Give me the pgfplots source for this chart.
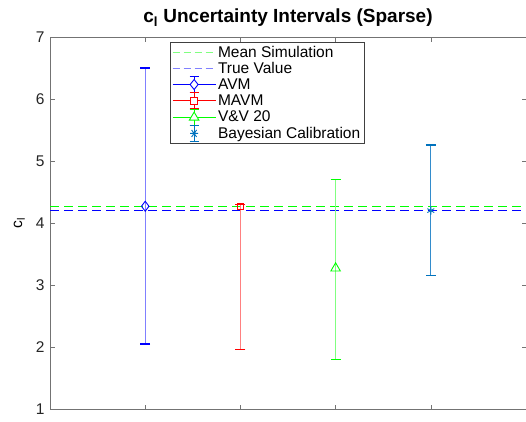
\documentclass[border=0pt]{standalone}
\usepackage{fontspec}
\setmainfont{Liberation Sans}
\usepackage{pgfplots}
\pgfplotsset{compat=1.18}
\definecolor{mblue}{rgb}{0,0.447,0.741}
\definecolor{axgray}{rgb}{0.45,0.45,0.45}
\definecolor{lgreen}{rgb}{0.5,1,0.5}
\definecolor{lblue}{rgb}{0.5,0.5,1}
\definecolor{bblue}{rgb}{0.5,0.5,1}
\definecolor{bred}{rgb}{1,0.5,0.5}
\definecolor{bgreen}{rgb}{0.5,1,0.5}
\definecolor{bmblue}{rgb}{0.2,0.55,0.8}
\begin{document}
\begin{tikzpicture}
\useasboundingbox (0pt,0pt) rectangle (526pt,421pt);
\begin{axis}[
  at={(50pt,12pt)}, anchor=south west,
  scale only axis, width=476pt, height=372pt,
  xmin=0, xmax=5, ymin=1, ymax=7,
  xtick={1,2,3,4}, xticklabels={},
  ytick={1,2,3,4,5,6,7},
  tick align=inside, tick style={axgray, line width=0.5pt},
  major tick length=4.5pt,
  axis line style={axgray, line width=0.6pt},
  ticklabel style={font=\fontsize{15.5}{17}\selectfont, text=black!85},
  yticklabel style={xshift=-2pt},
  /pgf/number format/assume math mode=true,
  title={\textbf{c\textsubscript{l} Uncertainty Intervals (Sparse)}},
  title style={font=\fontsize{19}{21}\selectfont, at={(0.5,1)}, yshift=1pt},
  ylabel={c\textsubscript{l}},
  ylabel style={font=\fontsize{15.5}{17}\selectfont, yshift=4pt},
  clip=false,
  legend style={draw=black!75, line width=0.6pt,
    font=\fontsize{15.5}{17}\selectfont, row sep=-0.6pt, inner xsep=2pt, inner ysep=1.5pt,
    legend cell align=left},
  every axis legend/.append style={at={(0.2518,0.9865)}, anchor=north west},
]
\addplot[green, dash pattern=on 9pt off 5pt, line width=0.9pt, forget plot] coordinates {(0,4.27) (5,4.27)};
\addplot[blue, dash pattern=on 9pt off 5pt, line width=1.6pt, forget plot] coordinates {(0,4.2) (5,4.2)};
% AVM
\addplot[blue, mark=diamond, mark size=5pt, mark options={solid, line width=0.9pt, draw=blue},
  only marks, forget plot,
  error bars/.cd, y dir=both, y explicit,
  error bar style={draw=bblue, line width=1pt},
  error mark options={rotate=90, mark size=5pt, draw=blue, line width=1.3pt},
] coordinates {(1,4.27) += (0,2.23) -= (0,2.22)};
% MAVM
\addplot[red, mark=square, mark size=3.2pt, mark options={solid, line width=0.9pt, draw=red},
  only marks, forget plot,
  error bars/.cd, y dir=both, y explicit,
  error bar style={draw=bred, line width=1pt},
  error mark options={rotate=90, mark size=5pt, draw=red, line width=1.3pt},
] coordinates {(2,4.27) += (0,0.03) -= (0,2.31)};
% V&V 20
\addplot[green, mark=triangle, mark size=5.5pt, mark options={solid, line width=0.9pt, draw=green},
  only marks, forget plot,
  error bars/.cd, y dir=both, y explicit,
  error bar style={draw=bgreen, line width=1pt},
  error mark options={rotate=90, mark size=5pt, draw=green, line width=1.3pt},
] coordinates {(3,3.27) += (0,1.43) -= (0,1.47)};
% Bayesian
\addplot[mblue, mark=asterisk, mark size=4pt, mark options={solid, line width=0.9pt, draw=mblue},
  only marks, forget plot,
  error bars/.cd, y dir=both, y explicit,
  error bar style={draw=bmblue, line width=1pt},
  error mark options={rotate=90, mark size=5pt, draw=mblue, line width=1.3pt},
] coordinates {(4,4.2) += (0,1.06) -= (0,1.05)};
% legend
\addlegendimage{legend image code/.code={\draw[draw=lgreen, dash pattern=on 7pt off 4pt, line width=0.9pt] (0pt,0pt) -- (43pt,0pt);}}
\addlegendentry{Mean Simulation}
\addlegendimage{legend image code/.code={\draw[draw=lblue, dash pattern=on 7pt off 4pt, line width=0.9pt] (0pt,0pt) -- (43pt,0pt);}}
\addlegendentry{True Value}
\addlegendimage{legend image code/.code={%
\draw[draw=blue, line width=0.9pt] (0pt,0pt) -- (43pt,0pt);%
\draw[draw=blue, line width=0.9pt] (21.5pt,-8pt) -- (21.5pt,8pt) (17pt,-8pt) -- (26pt,-8pt) (17pt,8pt) -- (26pt,8pt);%
\draw[draw=blue, line width=0.9pt, fill=white] (21.5pt,5pt) -- (25.5pt,0pt) -- (21.5pt,-5pt) -- (17.5pt,0pt) -- cycle;}}
\addlegendentry{AVM}
\addlegendimage{legend image code/.code={%
\draw[draw=red, line width=0.9pt] (0pt,0pt) -- (43pt,0pt);%
\draw[draw=red, line width=0.9pt] (21.5pt,-8pt) -- (21.5pt,8pt) (17pt,-8pt) -- (26pt,-8pt) (17pt,8pt) -- (26pt,8pt);%
\draw[draw=red, line width=0.9pt, fill=white] (18.3pt,-3.2pt) rectangle (24.7pt,3.2pt);}}
\addlegendentry{MAVM}
\addlegendimage{legend image code/.code={%
\draw[draw=green, line width=0.9pt] (0pt,0pt) -- (43pt,0pt);%
\draw[draw=green, line width=0.9pt] (21.5pt,-8pt) -- (21.5pt,8pt) (17pt,-8pt) -- (26pt,-8pt) (17pt,8pt) -- (26pt,8pt);%
\draw[draw=green, line width=0.9pt, fill=white] (21.5pt,5pt) -- (26.3pt,-3pt) -- (16.7pt,-3pt) -- cycle;}}
\addlegendentry{V\&V 20}
\addlegendimage{legend image code/.code={%
\draw[draw=mblue, line width=0.9pt] (21.5pt,-8pt) -- (21.5pt,8pt) (17pt,-8pt) -- (26pt,-8pt) (17pt,8pt) -- (26pt,8pt);%
\draw[draw=mblue, line width=0.9pt] (17.5pt,0pt) -- (25.5pt,0pt) (19pt,-3.5pt) -- (24pt,3.5pt) (19pt,3.5pt) -- (24pt,-3.5pt);}}
\addlegendentry{Bayesian Calibration}
\end{axis}
\end{tikzpicture}
\end{document}
